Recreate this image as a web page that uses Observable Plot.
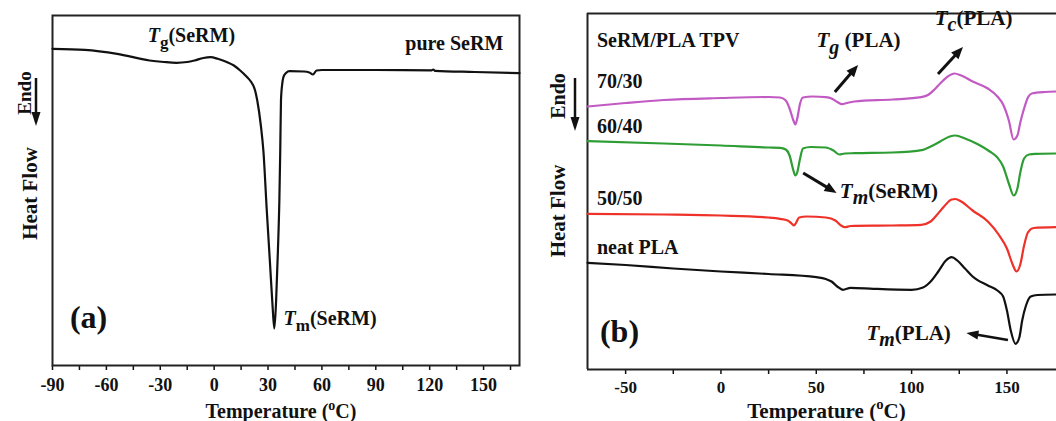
<!DOCTYPE html>
<html><head><meta charset="utf-8">
<script src="https://cdn.jsdelivr.net/npm/d3@7"></script>
<script src="https://cdn.jsdelivr.net/npm/@observablehq/plot@0.6"></script>
<style>
html,body{margin:0;padding:0;background:#fff;overflow:hidden}
#wrap{display:flex;width:1056px;height:421px;background:#fff}
</style></head><body><div id="wrap"></div>
<script>
// ---------- Panel (a): pure SeRM ----------
const pureSeRM_T  = [-90,-72,-54,-36,-28,-21,-15,-11,-6,-2,2,7,11,14.5,18,20,22.8,24,26,27.4,29.3,31,32.5,33.5,34.5,35.5,36.3,36.8,37.2,38,38.5,40,42,50,53,55,57,60,90,121,122,123,145,170];
const pureSeRM_HF = [31.67,31.57,31.17,30.5,30.35,30.27,30.35,30.5,30.75,30.83,30.67,30.35,30.0,29.5,28.9,28.5,27.5,26.5,24.0,21.5,15.5,10.5,6.0,3.7,6.5,11.5,16.5,21.5,26.5,28.3,28.8,29.25,29.43,29.4,29.3,29.1,29.5,29.55,29.55,29.52,29.6,29.47,29.35,29.23];

// ---------- Panel (b): SeRM/PLA TPV ----------
const tpv7030_T  = [-70,-50,-30,0,25,31,34,36,38,39,40,41.5,43,48,55,58,61,63.5,66,70,90,105,109,112,115,119,122.5,126,132,140,145,148,151,153.5,155.5,157,159,161,163,170,176];
const tpv7030_HF = [26.3,26.65,26.95,27.15,27.25,27.2,26.9,26.1,24.9,24.5,25.1,26.6,27.2,27.3,27.23,27.1,26.75,26.53,26.65,26.8,27.0,27.23,27.5,28.0,28.6,29.3,29.6,29.4,28.8,28.1,27.3,26.5,24.9,23.0,23.4,24.7,26.1,27.2,27.6,27.75,27.8];

const tpv6040_T  = [-70,-30,0,25,31,34,36,38,39,40,41.5,43,47,55,59,62,65,70,90,106,110,115,120,123,128,135,141,145,148,151,153.5,155.5,157,159,161.5,165,176];
const tpv6040_HF = [22.83,22.6,22.4,22.2,22.17,22.0,21.4,19.9,19.4,19.7,21.1,22.1,22.25,22.2,21.9,21.5,21.6,21.63,21.7,21.97,22.3,22.8,23.3,23.4,23.1,22.5,21.8,21.2,20.3,18.6,17.4,18.1,19.7,21.1,21.5,21.57,21.6];

const tpv5050_T  = [-70,-30,0,25,31,35,37,38.3,39.5,41,45,55,60,63,65,68,90,105,110,113,117,121,123,126,132,140,146,150,153,155,157,159,161,164,176];
const tpv5050_HF = [15.57,15.5,15.4,15.2,15.07,14.9,14.6,14.4,14.7,15.2,15.3,15.2,14.9,14.4,14.23,14.35,14.4,14.47,14.8,15.4,16.3,17.0,17.05,16.8,15.9,14.8,13.4,12.1,10.5,9.8,10.5,12.4,13.7,14.15,14.23];

const neatPLA_T  = [-70,-50,-25,0,25,50,55,58,61,64,68,80,100,106,110,114,118,121,124,128,132,140,145,148,150,152,154.5,156.5,158,160,162.5,166,176];
const neatPLA_HF = [10.67,10.45,10.1,9.8,9.55,9.23,9.05,8.8,8.3,7.97,8.17,8.07,7.97,8.2,8.8,9.8,10.9,11.23,10.9,10.1,9.3,8.4,7.9,7.3,5.9,3.9,2.57,3.2,4.9,6.4,7.3,7.45,7.5];

const seriesNamesB  = ["70/30", "60/40", "50/50", "neat PLA"];
const seriesColorsB = ["#c25ac4", "#2e9d34", "#ee3129", "#111111"];

const ticksA = [-90,-60,-30,0,30,60,90,120,150];
const minorA = [-75,-45,-15,15,45,75,105,135,165];
const ticksB = [-50,0,50,100,150];
const minorB = [-25,25,75,125];

// ---------- helpers ----------
const FONT = "'Liberation Serif','Times New Roman',serif";
const rows = (T, H, name) => T.map((t, i) => ({temp: t, hf: H[i], series: name}));

function richText(g, x, y, parts, size, anchor = "start", rotate = false) {
  const t = g.append("text").attr("font-size", size).attr("text-anchor", anchor).attr("fill", "#111");
  if (rotate) t.attr("transform", `translate(${x},${y}) rotate(-90)`);
  else t.attr("x", x).attr("y", y);
  let shift = 0;
  for (const p of parts) {
    const target = p.sub ? size * (p.d || 0.28) : p.sup ? -size * 0.42 : 0;
    const ts = t.append("tspan").text(p.t).attr("dy", target - shift);
    shift = target;
    if (p.sub || p.sup) ts.attr("font-size", size * (p.s || 0.75));
    if (p.i) ts.attr("font-style", "italic");
  }
  return t;
}
function arrow(g, x1, y1, x2, y2, w, hl, hw) {
  const dx = x2 - x1, dy = y2 - y1, L = Math.hypot(dx, dy), ux = dx / L, uy = dy / L;
  const bx = x2 - ux * hl, by = y2 - uy * hl;
  g.append("line").attr("x1", x1).attr("y1", y1).attr("x2", bx + ux * 1).attr("y2", by + uy * 1)
    .attr("stroke", "#111").attr("stroke-width", w);
  g.append("path").attr("d", `M${x2},${y2}L${bx - uy * hw / 2},${by + ux * hw / 2}L${bx + uy * hw / 2},${by - ux * hw / 2}Z`)
    .attr("fill", "#111");
}
const overlay = (fn) => (index, scales, values, dims) => {
  const g = d3.create("svg:g");
  fn(g, scales.x, scales.y, dims);
  return g.node();
};
const fmt = (d) => String(d);

// ---------- Panel (a) ----------
const plotA = Plot.plot({
  width: 530, height: 421,
  marginLeft: 52, marginRight: 11, marginTop: 15, marginBottom: 56,
  x: {domain: [-90, 170], label: null},
  y: {domain: [0, 35], axis: null},
  style: {fontFamily: FONT, fontWeight: "bold", background: "#fff", color: "#111", overflow: "visible"},
  marks: [
    Plot.axisX({ticks: ticksA, tickFormat: fmt, tickSize: 5, tickPadding: 8, fontSize: 18, label: null, strokeWidth: 1.5}),
    Plot.axisX({ticks: minorA, tickFormat: () => "", tickSize: 5, label: null, strokeWidth: 1.5}),
    Plot.frame({stroke: "#222", strokeWidth: 2}),
    Plot.line(rows(pureSeRM_T, pureSeRM_HF, "pure SeRM"), {x: "temp", y: "hf", stroke: "#111", strokeWidth: 2.2, curve: "monotone-x"}),
    overlay((g, sx, sy, dims) => {
      richText(g, sx(-36.7), sy(32.3), [{t: "T", i: true}, {t: "g", sub: true, s: 0.85}, {t: "(SeRM)"}], 20);
      richText(g, sx(106.7), sy(31.5), [{t: "pure SeRM"}], 20);
      richText(g, sx(38.9), sy(4.0), [{t: "T", i: true}, {t: "m", sub: true, s: 0.85}, {t: "(SeRM)"}], 20);
      richText(g, sx(-80), sy(3.7), [{t: "(a)"}], 32);
      richText(g, sx(37.5), dims.height - 3, [{t: "Temperature ("}, {t: "o", sup: true, s: 0.7}, {t: "C)"}], 20, "middle");
      richText(g, 37, 193.5, [{t: "Heat Flow"}], 21, "middle", true);
      richText(g, 31, 93, [{t: "Endo"}], 19, "middle", true);
      arrow(g, 36, 78, 36, 126, 2.5, 14, 9);
    })
  ]
});

// ---------- Panel (b) ----------
const dataB = [
  ...rows(tpv7030_T, tpv7030_HF, seriesNamesB[0]),
  ...rows(tpv6040_T, tpv6040_HF, seriesNamesB[1]),
  ...rows(tpv5050_T, tpv5050_HF, seriesNamesB[2]),
  ...rows(neatPLA_T, neatPLA_HF, seriesNamesB[3])
];
const plotB = Plot.plot({
  width: 526, height: 421,
  marginLeft: 57, marginRight: 0, marginTop: 13, marginBottom: 52,
  x: {domain: [-70, 176], label: null},
  y: {domain: [0, 35.6], axis: null},
  color: {domain: seriesNamesB, range: seriesColorsB},
  style: {fontFamily: FONT, fontWeight: "bold", background: "#fff", color: "#111", overflow: "visible"},
  marks: [
    Plot.axisX({ticks: ticksB, tickFormat: fmt, tickSize: 5, tickPadding: 6, fontSize: 17, label: null, strokeWidth: 1.5}),
    Plot.axisX({ticks: minorB, tickFormat: () => "", tickSize: 5, label: null, strokeWidth: 1.5}),
    Plot.ruleX([-70], {stroke: "#222", strokeWidth: 2}),
    Plot.ruleY([0, 35.6], {stroke: "#222", strokeWidth: 2}),
    Plot.line(dataB, {x: "temp", y: "hf", z: "series", stroke: "series", strokeWidth: 2.2, curve: "monotone-x"}),
    overlay((g, sx, sy, dims) => {
      richText(g, sx(-64.8), sy(32.2), [{t: "SeRM/PLA TPV"}], 20);
      richText(g, sx(50.4), sy(32.2), [{t: "T", i: true}, {t: "g", sub: true, i: true, s: 0.95, d: 0.35}, {t: " (PLA)"}], 21);
      richText(g, sx(112.4), sy(34.4), [{t: "T", i: true}, {t: "c", sub: true, i: true, s: 0.95, d: 0.3}, {t: "(PLA)"}], 21);
      richText(g, sx(-64.8), sy(28.1), [{t: seriesNamesB[0]}], 20);
      richText(g, sx(-64.8), sy(23.6), [{t: seriesNamesB[1]}], 20);
      richText(g, sx(-64.8), sy(16.4), [{t: seriesNamesB[2]}], 20);
      richText(g, sx(-64.8), sy(11.5), [{t: seriesNamesB[3]}], 20);
      richText(g, sx(62.6), sy(17.1), [{t: "T", i: true}, {t: "m", sub: true, i: true, s: 0.95, d: 0.3}, {t: "(SeRM)"}], 21);
      richText(g, sx(-63.2), sy(2.7), [{t: "(b)"}], 32);
      richText(g, sx(76.6), sy(2.9), [{t: "T", i: true}, {t: "m", sub: true, i: true, s: 0.95, d: 0.3}, {t: "(PLA)"}], 21);
      arrow(g, sx(60), sy(27.7), sx(72.2), sy(30.4), 3, 12, 10);
      arrow(g, sx(114.1), sy(29.5), sx(127.2), sy(32.2), 3, 12, 10);
      arrow(g, sx(43.4), sy(19.6), sx(60.9), sy(17.6), 3, 12, 10);
      arrow(g, sx(150.8), sy(2.9), sx(129), sy(3.6), 2.5, 12, 9);
      richText(g, sx(55.6), dims.height - 3, [{t: "Temperature ("}, {t: "o", sup: true, s: 0.7}, {t: "C)"}], 21, "middle");
      richText(g, 35, 211, [{t: "Heat Flow"}], 21, "middle", true);
      richText(g, 35, 96, [{t: "Endo"}], 20, "middle", true);
      arrow(g, 45, 78, 45, 131, 2.5, 14, 9);
    })
  ]
});

const wrap = document.getElementById("wrap");
wrap.appendChild(plotA);
wrap.appendChild(plotB);
</script></body></html>
